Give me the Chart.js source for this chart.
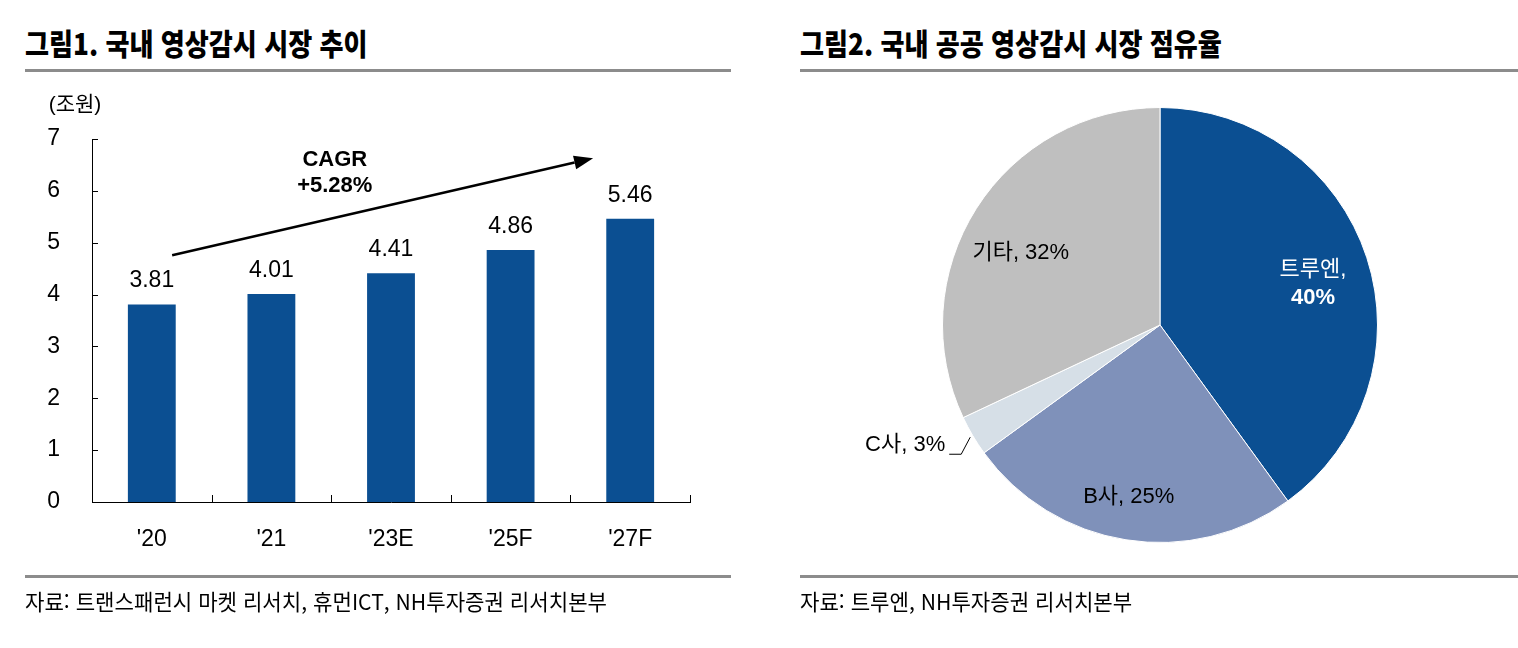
<!DOCTYPE html>
<html lang="ko">
<head>
<meta charset="utf-8">
<title>국내 영상감시 시장</title>
<script src="https://cdn.jsdelivr.net/npm/chart.js@4.4.1/dist/chart.umd.min.js"></script>
<style>
  html, body { margin: 0; padding: 0; background: #fff; }
  #page { position: relative; width: 1518px; height: 648px; overflow: hidden; }
  canvas { position: absolute; top: 0; }
  .title {
    position: absolute; top: 23px; white-space: nowrap;
    font-family: 'Noto Sans CJK KR', sans-serif; font-weight: 900;
    font-size: 30px; line-height: 38px; color: #000;
    transform: scaleX(0.87); transform-origin: left center;
  }
  .rule { position: absolute; height: 3px; background: #8c8c8c; }
  .source {
    position: absolute; top: 586px; white-space: nowrap;
    font-family: 'Noto Sans CJK KR', sans-serif; font-size: 22px; line-height: 28px; color: #000;
    transform: scaleX(0.96); transform-origin: left center;
  }
</style>
</head>
<body>
<div id="page">
  <div class="title" style="left:25px">그림1. 국내 영상감시 시장 추이</div>
  <div class="title" style="left:800px">그림2. 국내 공공 영상감시 시장 점유율</div>
  <div class="rule" style="left:25px; width:706px; top:69px"></div>
  <div class="rule" style="left:800px; width:718px; top:69px"></div>
  <canvas id="marketChart" width="740" height="648" style="left:0; width:740px; height:648px"></canvas>
  <canvas id="shareChart" width="738" height="648" style="left:780px; width:738px; height:648px"></canvas>
  <div class="rule" style="left:25px; width:706px; top:575px"></div>
  <div class="rule" style="left:800px; width:718px; top:575px"></div>
  <div class="source" style="left:25px">자료: 트랜스패런시 마켓 리서치, 휴먼ICT, NH투자증권 리서치본부</div>
  <div class="source" style="left:800px">자료: 트루엔, NH투자증권 리서치본부</div>
</div>
<script>
// 국내 영상감시 시장 규모 (조원)
const categories = ["'20", "'21", "'23E", "'25F", "'27F"];
const marketSize = [3.81, 4.01, 4.41, 4.86, 5.46];
const yMin = 0;
const yMax = 7;
const yStep = 1;
const cagrText = ['CAGR', '+5.28%'];

// 국내 공공 영상감시 시장 점유율 (%)
const shareLabels = ['트루엔', 'B사', 'C사', '기타'];
const shareValues = [40, 25, 3, 32];

const FONT = "'Liberation Sans Narrow', 'Liberation Sans', 'Noto Sans CJK KR', sans-serif";
const BLUE = '#0B4F92';
const shareColors = [BLUE, '#7F91BA', '#D6DFE7', '#BFBFBF'];

// arrow + CAGR note, placed in data space (category index, value)
const arrowFrom = { x: 0.17, y: 4.76 };
const arrowTo = { x: 3.69, y: 6.63 };
const cagrAt = { x: 1.53, y: 6.6 };

/*
    Small tick marks pointing into the plot, like the original chart.
*/
const innerTicks = {
    id: 'innerTicks',
    afterDraw(chart) {
        const { ctx, chartArea, scales } = chart;
        ctx.save();
        ctx.strokeStyle = '#000';
        ctx.lineWidth = 1;
        ctx.beginPath();
        scales.y.ticks.forEach(t => {
            const py = Math.round(scales.y.getPixelForValue(t.value)) + 0.5;
            ctx.moveTo(chartArea.left, py);
            ctx.lineTo(chartArea.left + 6, py);
        });
        for (let i = 0; i < categories.length; i++) {
            const px = Math.round(scales.x.getPixelForValue(i + 0.5)) + 0.5;
            ctx.moveTo(px, chartArea.bottom);
            ctx.lineTo(px, chartArea.bottom - 7);
        }
        ctx.stroke();

        // unit label
        ctx.fillStyle = '#000';
        ctx.font = `21px ${FONT}`;
        ctx.textAlign = 'center';
        ctx.textBaseline = 'middle';
        ctx.fillText('(조원)', chartArea.left - 17, chartArea.top - 34);
        ctx.restore();
    }
};

/*
    Value labels over each bar.
*/
const barValueLabels = {
    id: 'barValueLabels',
    afterDatasetsDraw(chart) {
        const ctx = chart.ctx;
        const meta = chart.getDatasetMeta(0);
        ctx.save();
        ctx.fillStyle = '#000';
        ctx.font = `23px ${FONT}`;
        ctx.textAlign = 'center';
        ctx.textBaseline = 'alphabetic';
        meta.data.forEach((bar, i) => {
            ctx.fillText(marketSize[i].toFixed(2), bar.x, bar.y - 17);
        });
        ctx.restore();
    }
};

/*
    CAGR arrow and its text.
*/
const cagrArrow = {
    id: 'cagrArrow',
    afterDraw(chart) {
        const { ctx, scales } = chart;
        const x0 = scales.x.getPixelForValue(arrowFrom.x);
        const y0 = scales.y.getPixelForValue(arrowFrom.y);
        const x1 = scales.x.getPixelForValue(arrowTo.x);
        const y1 = scales.y.getPixelForValue(arrowTo.y);
        const ang = Math.atan2(y1 - y0, x1 - x0);
        const headLen = 19, headHalf = 7;
        const bx = x1 - headLen * Math.cos(ang);
        const by = y1 - headLen * Math.sin(ang);
        ctx.save();
        ctx.strokeStyle = '#000';
        ctx.fillStyle = '#000';
        ctx.lineWidth = 2.5;
        ctx.beginPath();
        ctx.moveTo(x0, y0);
        ctx.lineTo(bx, by);
        ctx.stroke();
        ctx.beginPath();
        ctx.moveTo(x1, y1);
        ctx.lineTo(bx + headHalf * Math.sin(ang), by - headHalf * Math.cos(ang));
        ctx.lineTo(bx - headHalf * Math.sin(ang), by + headHalf * Math.cos(ang));
        ctx.closePath();
        ctx.fill();

        const tx = scales.x.getPixelForValue(cagrAt.x);
        const ty = scales.y.getPixelForValue(cagrAt.y);
        ctx.font = `bold 22px ${FONT}`;
        ctx.textAlign = 'center';
        ctx.textBaseline = 'middle';
        ctx.fillText(cagrText[0], tx, ty);
        ctx.fillText(cagrText[1], tx, ty + 26);
        ctx.restore();
    }
};

/*
    Labels on the pie slices; C사 gets a leader line.
*/
const pieLabelStyle = [
    { r: 0.73, dx: 2, dy: 8, color: '#fff', split: true },
    { r: 0.8, dx: -4, dy: 0, color: '#000' },
    { outside: true, color: '#000' },
    { r: 0.72, dx: -7, dy: 12, color: '#000' }
];

const pieLabels = {
    id: 'pieLabels',
    afterDatasetsDraw(chart) {
        const ctx = chart.ctx;
        const meta = chart.getDatasetMeta(0);
        ctx.save();
        ctx.font = `22px ${FONT}`;
        ctx.textBaseline = 'middle';
        meta.data.forEach((arc, i) => {
            const st = pieLabelStyle[i];
            const mid = (arc.startAngle + arc.endAngle) / 2;
            const cos = Math.cos(mid), sin = Math.sin(mid);
            ctx.fillStyle = st.color;
            if (st.outside) {
                const px = arc.x + (arc.outerRadius + 3) * cos;
                const py = arc.y + (arc.outerRadius + 3) * sin;
                const kx = px - 9, ky = py + 17;
                const ex = kx - 12;
                ctx.strokeStyle = '#000';
                ctx.lineWidth = 1;
                ctx.beginPath();
                ctx.moveTo(px, py);
                ctx.lineTo(kx, ky);
                ctx.lineTo(ex, ky);
                ctx.stroke();
                ctx.textAlign = 'right';
                ctx.fillText(`${shareLabels[i]}, ${shareValues[i]}%`, ex - 4, ky - 9);
                return;
            }
            const lx = arc.x + arc.outerRadius * st.r * cos + st.dx;
            const ly = arc.y + arc.outerRadius * st.r * sin + st.dy;
            ctx.textAlign = 'center';
            if (st.split) {
                ctx.fillText(`${shareLabels[i]},`, lx, ly - 14);
                ctx.font = `bold 22px ${FONT}`;
                ctx.fillText(`${shareValues[i]}%`, lx, ly + 14);
                ctx.font = `22px ${FONT}`;
            } else {
                ctx.fillText(`${shareLabels[i]}, ${shareValues[i]}%`, lx, ly);
            }
        });
        ctx.restore();
    }
};

function drawMarketChart() {
    const canvas = document.getElementById('marketChart');
    new Chart(canvas.getContext('2d'), {
        type: 'bar',
        data: {
            labels: categories,
            datasets: [{
                data: marketSize,
                backgroundColor: BLUE,
                borderWidth: 0,
                barPercentage: 0.4,
                categoryPercentage: 1.0
            }]
        },
        options: {
            responsive: false,
            animation: false,
            layout: { padding: { left: 0, right: 50, top: 139, bottom: 102 } },
            scales: {
                x: {
                    grid: { display: false },
                    border: { display: true, color: '#000', width: 1 },
                    ticks: { color: '#000', font: { family: FONT, size: 23 }, padding: 16, maxRotation: 0 },
                    afterFit(scale) { scale.height = 44; }
                },
                y: {
                    min: yMin,
                    max: yMax,
                    grid: { display: false },
                    border: { display: true, color: '#000', width: 1 },
                    ticks: { stepSize: yStep, color: '#000', font: { family: FONT, size: 23 }, padding: 24 },
                    afterFit(scale) { scale.width = 92; }
                }
            },
            plugins: {
                legend: { display: false },
                tooltip: { enabled: false }
            }
        },
        plugins: [innerTicks, barValueLabels, cagrArrow]
    });
}

function drawShareChart() {
    const canvas = document.getElementById('shareChart');
    new Chart(canvas.getContext('2d'), {
        type: 'pie',
        data: {
            labels: shareLabels,
            datasets: [{
                data: shareValues,
                backgroundColor: shareColors,
                borderColor: '#fff',
                borderWidth: 1
            }]
        },
        options: {
            responsive: false,
            animation: false,
            layout: { padding: { left: 162, right: 140, top: 107, bottom: 105 } },
            plugins: {
                legend: { display: false },
                tooltip: { enabled: false }
            }
        },
        plugins: [pieLabels]
    });
}

drawMarketChart();
drawShareChart();
</script>
</body>
</html>
